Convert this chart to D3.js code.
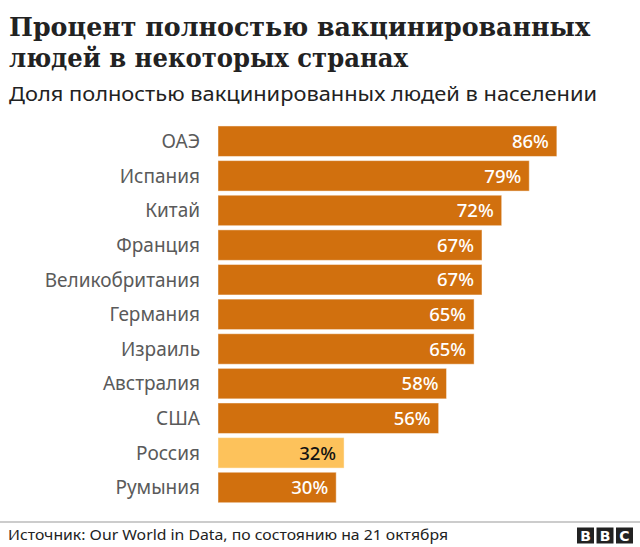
<!DOCTYPE html>
<html><head><meta charset="utf-8">
<script src="https://cdn.jsdelivr.net/npm/d3@7"></script>
<style>body{margin:0;background:#fff}</style>
</head><body>
<svg id="c" width="640" height="547"></svg>
<script>
const countries = ["ОАЭ","Испания","Китай","Франция","Великобритания","Германия","Израиль","Австралия","США","Россия","Румыния"];
const values = [86,79,72,67,67,65,65,58,56,32,30];
const highlight = ["Россия"];
const titleLines = ["Процент полностью вакцинированных","людей в некоторых странах"];
const subtitle = "Доля полностью вакцинированных людей в населении";
const source = "Источник: Our World in Data, по состоянию на 21 октября";

const svg = d3.select("#c");
const sans = "'Noto Sans', 'Open Sans', sans-serif";
const serif = "'DejaVu Serif', 'Liberation Serif', serif";

function fit(sel, target){
  const w = sel.node().getComputedTextLength();
  if (w > 0) sel.attr("textLength", target).attr("lengthAdjust","spacingAndGlyphs");
}

const t1 = svg.append("text").attr("x",9).attr("y",36).text(titleLines[0])
  .style("font-family",serif).style("font-weight","bold").style("font-size","26.5px").attr("fill","#222");
fit(t1, 581);
const t2 = svg.append("text").attr("x",9).attr("y",67).text(titleLines[1])
  .style("font-family",serif).style("font-weight","bold").style("font-size","26.5px").attr("fill","#222");
fit(t2, 399);
const st = svg.append("text").attr("x",9).attr("y",101).text(subtitle)
  .style("font-family",sans).style("font-size","20px").attr("fill","#222");
fit(st, 588);

const x = d3.scaleLinear().domain([0,100]).range([218,612]);
const y = d3.scaleBand().domain(countries).range([123.9,504.8]).paddingInner(0.12).paddingOuter(0.06);

const data = countries.map((c,i)=>({c, v: values[i]}));

svg.append("g").selectAll("rect").data(data).join("rect")
  .attr("x", x(0)).attr("y", d=>y(d.c))
  .attr("width", d=>x(d.v)-x(0)).attr("height", y.bandwidth())
  .attr("fill", d=>highlight.includes(d.c) ? "#FDC25B" : "#D1700E")
  .attr("stroke", "rgba(255,255,255,0.45)").attr("stroke-width",1);

svg.append("g").selectAll("text").data(data).join("text")
  .attr("x", d=>x(d.v)-8).attr("y", d=>y(d.c)+y.bandwidth()/2).attr("dy","0.36em")
  .attr("text-anchor","end")
  .style("font-family",sans).style("font-size","18.5px").style("font-weight","500")
  .attr("fill", d=>highlight.includes(d.c) ? "#111" : "#fff")
  .text(d=>d.v+"%");

const yAxis = d3.axisLeft(y).tickSize(0).tickPadding(0);
const ga = svg.append("g").attr("transform","translate(200,0)").call(yAxis);
ga.select(".domain").remove();
ga.selectAll("text").style("font-family",sans).style("font-size","19px").attr("fill","#5a5a5a").attr("dy","0.36em");

svg.append("line").attr("x1",0).attr("x2",640).attr("y1",522).attr("y2",522)
  .attr("stroke","#999").attr("stroke-width",1);
const src = svg.append("text").attr("x",8).attr("y",540).text(source)
  .style("font-family",sans).style("font-size","15px").attr("fill","#222");
fit(src, 440);

const bbc = svg.append("g");
["B","B","C"].forEach((l,i)=>{
  const bx = 577 + i*19.5;
  bbc.append("rect").attr("x",bx).attr("y",527.5).attr("width",17).attr("height",16).attr("fill","#222");
  bbc.append("text").attr("x",bx+8.5).attr("y",541).attr("text-anchor","middle")
    .style("font-family","'DejaVu Sans', sans-serif").style("font-weight","bold").style("font-size","14px")
    .attr("fill","#fff").text(l);
});
</script>
</body></html>
